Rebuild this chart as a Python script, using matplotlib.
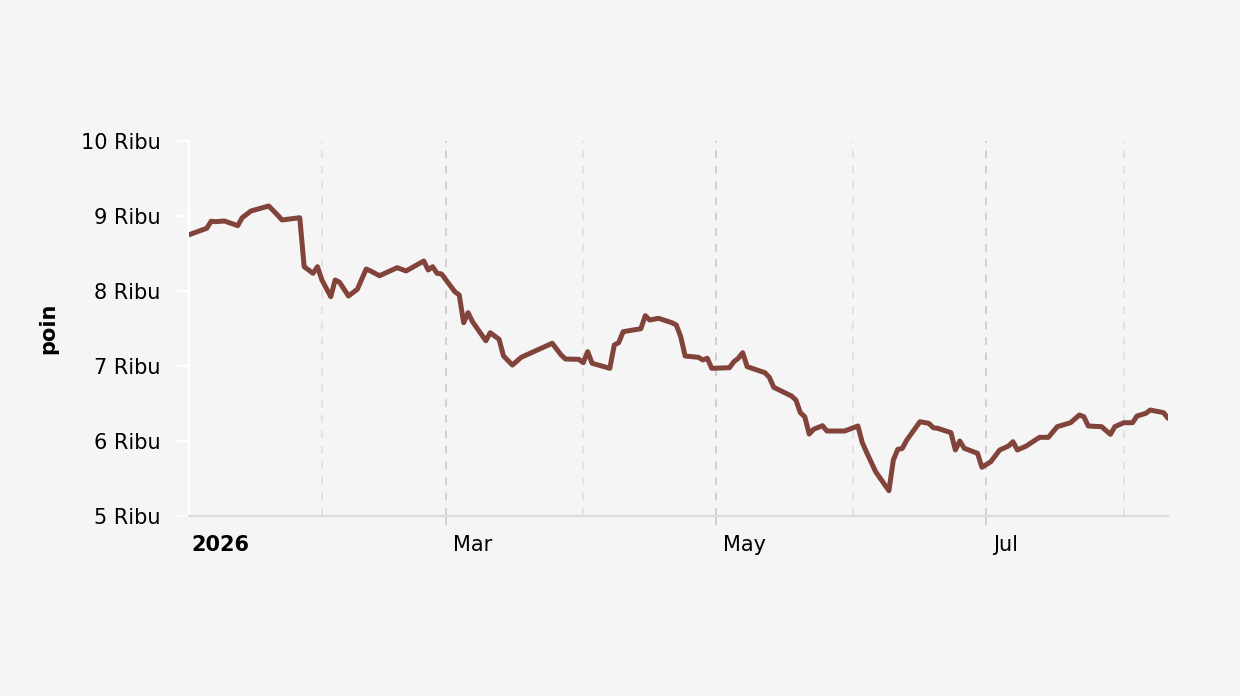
import matplotlib
matplotlib.use("Agg")
import matplotlib.pyplot as plt
import matplotlib.dates as mdates
import matplotlib.transforms as mtransforms
import numpy as np
import pandas as pd

# ---- data ----
dates = [
    "2026-01-02", "2026-01-06", "2026-01-07", "2026-01-08", "2026-01-10", "2026-01-13",
    "2026-01-14", "2026-01-16", "2026-01-20", "2026-01-22", "2026-01-23", "2026-01-27",
    "2026-01-28", "2026-01-30", "2026-01-31", "2026-02-01", "2026-02-03", "2026-02-04",
    "2026-02-05", "2026-02-07", "2026-02-09", "2026-02-11", "2026-02-12", "2026-02-14",
    "2026-02-18", "2026-02-20", "2026-02-24", "2026-02-25", "2026-02-26", "2026-02-27",
    "2026-02-28", "2026-03-03", "2026-03-04", "2026-03-05", "2026-03-06", "2026-03-07",
    "2026-03-10", "2026-03-11", "2026-03-13", "2026-03-14", "2026-03-16", "2026-03-18",
    "2026-03-25", "2026-03-27", "2026-03-28", "2026-03-31", "2026-04-01", "2026-04-02",
    "2026-04-03", "2026-04-07", "2026-04-08", "2026-04-09", "2026-04-10", "2026-04-14",
    "2026-04-15", "2026-04-16", "2026-04-18", "2026-04-21", "2026-04-22", "2026-04-23",
    "2026-04-24", "2026-04-27", "2026-04-28", "2026-04-29", "2026-04-30", "2026-05-04",
    "2026-05-05", "2026-05-06", "2026-05-07", "2026-05-08", "2026-05-12", "2026-05-13",
    "2026-05-14", "2026-05-18", "2026-05-19", "2026-05-20", "2026-05-21", "2026-05-22",
    "2026-05-23", "2026-05-25", "2026-05-26", "2026-05-30", "2026-06-02", "2026-06-03",
    "2026-06-04", "2026-06-06", "2026-06-09", "2026-06-10", "2026-06-11", "2026-06-12",
    "2026-06-13", "2026-06-16", "2026-06-18", "2026-06-19", "2026-06-20", "2026-06-23",
    "2026-06-24", "2026-06-25", "2026-06-26", "2026-06-29", "2026-06-30", "2026-07-02",
    "2026-07-04", "2026-07-06", "2026-07-07", "2026-07-08", "2026-07-10", "2026-07-13",
    "2026-07-15", "2026-07-17", "2026-07-20", "2026-07-22", "2026-07-23", "2026-07-24",
    "2026-07-27", "2026-07-29", "2026-07-30", "2026-08-01", "2026-08-03", "2026-08-04",
    "2026-08-06", "2026-08-07", "2026-08-10", "2026-08-11",
]
values = [
    8750, 8836, 8930, 8924, 8933, 8871,
    8977, 9067, 9133, 9013, 8947, 8977,
    8324, 8236, 8324, 8147, 7924, 8147,
    8116, 7933, 8023, 8293, 8267, 8204,
    8311, 8267, 8400, 8280, 8324, 8236,
    8227, 7991, 7947, 7577, 7711, 7591,
    7337, 7444, 7356, 7133, 7013, 7116,
    7303, 7147, 7093, 7089, 7044, 7191,
    7036, 6969, 7280, 7311, 7457, 7497,
    7671, 7613, 7636, 7577, 7547, 7391,
    7133, 7116, 7080, 7103, 6969, 6977,
    7057, 7103, 7177, 6991, 6911, 6849,
    6716, 6600, 6547, 6377, 6324, 6093,
    6156, 6204, 6133, 6133, 6200, 5977,
    5844, 5591, 5337, 5747, 5889, 5900,
    6010, 6257, 6236, 6177, 6169, 6111,
    5880, 6000, 5903, 5836, 5649, 5724,
    5880, 5933, 5991, 5880, 5933, 6049,
    6049, 6191, 6244, 6347, 6324, 6200,
    6191, 6089, 6191, 6244, 6244, 6333,
    6369, 6413, 6378, 6303,
]
y_ticks = [5000, 6000, 7000, 8000, 9000, 10000]
y_tick_labels = ["5 Ribu", "6 Ribu", "7 Ribu", "8 Ribu", "9 Ribu", "10 Ribu"]
major_dates = ["2026-03-01", "2026-05-01", "2026-07-01"]
major_labels = ["Mar", "May", "Jul"]
minor_dates = ["2026-02-01", "2026-04-01", "2026-06-01", "2026-08-01"]
year_label_date = "2026-01-01"
year_label = "2026"
y_axis_title = "poin"

# ---- styling ----
BG = "#f5f5f5"
LINE = "#82443a"

x = pd.to_datetime(dates)
fig = plt.figure(figsize=(12.4, 6.96), dpi=100, facecolor=BG)
ax = fig.add_axes([189 / 1240, 180 / 696, (1168 - 189) / 1240, (516 - 141) / 696])
ax.set_facecolor(BG)

ax.plot(x, values, color=LINE, lw=3.6, solid_capstyle="round", solid_joinstyle="round", zorder=3)

ax.set_xlim(x[0], x[-1])
ax.set_ylim(5000, 10000)

# gridlines
for d in pd.to_datetime(major_dates):
    ax.axvline(d, color="#cfcfcf", lw=1.4, ls=(0, (4, 4)), zorder=1)
for d in pd.to_datetime(minor_dates):
    ax.axvline(d, color="#e2e2e2", lw=1.4, ls=(0, (4, 4)), zorder=1)

# spines
for s in ["top", "right"]:
    ax.spines[s].set_visible(False)
ax.spines["left"].set_color("white")
ax.spines["left"].set_linewidth(1.6)
ax.spines["bottom"].set_color("#dcdcdc")
ax.spines["bottom"].set_linewidth(1.6)

# y ticks
ax.set_yticks(y_ticks)
ax.set_yticklabels(y_tick_labels)
ax.tick_params(axis="y", colors="white", length=8.5, width=1.5, pad=12,
               labelsize=15, labelcolor="black")

# x ticks
ax.set_xticks(pd.to_datetime(major_dates))
ax.set_xticklabels(major_labels)
ax.tick_params(axis="x", colors="#cfcfcf", length=6.5, width=1.4, pad=7,
               labelsize=15, labelcolor="black")
offset = mtransforms.ScaledTranslation(7 / 100, 0, fig.dpi_scale_trans)
for lbl in ax.get_xticklabels():
    lbl.set_horizontalalignment("left")
    lbl.set_transform(lbl.get_transform() + offset)

# year label at Jan 1 (just left of the data start)
trans = mtransforms.blended_transform_factory(ax.transData, ax.transAxes)
ax.text(mdates.date2num(pd.Timestamp(year_label_date)), 0, year_label,
        transform=trans + offset + mtransforms.ScaledTranslation(0, -(6.5 + 7) / 72, fig.dpi_scale_trans),
        ha="left", va="top", fontsize=15, fontweight="bold", clip_on=False)

ax.set_ylabel(y_axis_title, fontsize=15, fontweight="bold")
ax.yaxis.set_label_coords(-0.134, 0.5)

fig.savefig("out.png", dpi=100, facecolor=BG)
